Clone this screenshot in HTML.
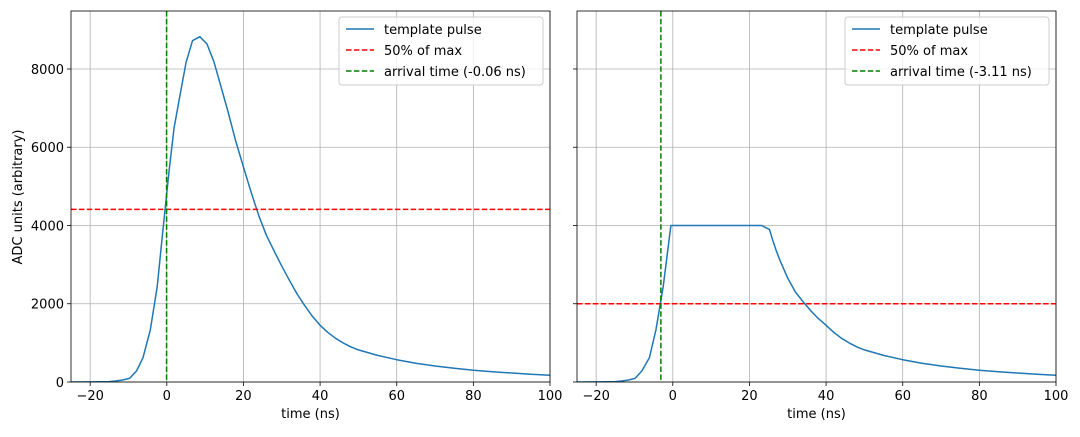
<!DOCTYPE html>
<html><head><meta charset="utf-8"><style>
body{margin:0;background:#fff;font-family:"Liberation Sans","DejaVu Sans",sans-serif}
svg text{font-family:"DejaVu Sans","Liberation Sans",sans-serif;font-size:13px;fill:#000}
</style></head><body>
<svg id="chart" width="1080" height="432" xmlns="http://www.w3.org/2000/svg"></svg>
<script>
const leftT=[-25,-20,-15,-13.4,-11.5,-9.7,-7.9,-6.2,-4.3,-2.5,-1.1,0.6,1.9,3.4,5.0,6.7,8.6,10.5,12.3,14,16,18,20,22,24,26,28,30,32,34,36,38,40,42,44,46,48,50,55,60,65,70,75,80,85,90,95,100];
const leftV=[0,2,10,25,50,94,281,621,1329,2437,3801,5400,6500,7300,8161,8724,8826,8639,8187,7600,6900,6150,5500,4850,4250,3750,3350,2960,2600,2250,1950,1680,1450,1270,1120,1000,900,820,680,570,480,410,350,300,260,230,200,175];
const rightT=[-25,-20,-15,-13.4,-11.5,-9.8,-8.1,-6.1,-4.4,-2.5,-0.5,23.2,25.2,26,27,28,30,32,34,36,38,40,42,44,46,48,50,55,60,65,70,75,80,85,90,95,100];
const rightV=[0,2,10,25,50,94,281,621,1329,2437,4000,4000,3900,3650,3350,3100,2650,2300,2050,1820,1620,1450,1270,1120,1000,900,820,680,570,480,410,350,300,260,230,200,175];
const xTicks=[-20,0,20,40,60,80,100];
const yTicks=[0,2000,4000,6000,8000];
const halfMax=[4413,2000];
const arrival=[-0.06,-3.11];
const arrivalLabels=["arrival time (-0.06 ns)","arrival time (-3.11 ns)"];
const NS="http://www.w3.org/2000/svg";
const svg=document.getElementById('chart');
function mk(tag,attrs,parent){const e=document.createElementNS(NS,tag);for(const k in attrs)e.setAttribute(k,attrs[k]);(parent||svg).appendChild(e);return e;}
const panels=[{x0:71,x1:550,T:leftT,V:leftV,name:'left'},{x0:577,x1:1056,T:rightT,V:rightV,name:'right'}];
const yTop=11,yBot=382,ymax=9482,xmin=-25,xmax=100;
panels.forEach((p,i)=>{
  const g=mk('g',{});
  
  
  const sx=v=>p.x0+(v-xmin)/(xmax-xmin)*(p.x1-p.x0);
  const sy=v=>yBot-v/ymax*(yBot-yTop);
  xTicks.forEach(t=>{
    mk('line',{x1:sx(t),x2:sx(t),y1:yTop,y2:yBot,stroke:'#b0b0b0','stroke-width':0.8},g);
    mk('line',{x1:sx(t),x2:sx(t),y1:yBot,y2:yBot+4,stroke:'#000','stroke-width':0.8},g);
    const tx=mk('text',{x:sx(t),y:yBot+18,'text-anchor':'middle'},g);tx.textContent=String(t).replace('-','\u2212');
    
    
  });
  yTicks.forEach(t=>{
    mk('line',{x1:p.x0,x2:p.x1,y1:sy(t),y2:sy(t),stroke:'#b0b0b0','stroke-width':0.8},g);
    mk('line',{x1:p.x0-4,x2:p.x0,y1:sy(t),y2:sy(t),stroke:'#000','stroke-width':0.8},g);
    if(i===0){const tx=mk('text',{x:p.x0-7,y:sy(t)+5,'text-anchor':'end'},g);tx.textContent=t;
      
      }
  });
  const pts=p.T.map((t,j)=>sx(t).toFixed(1)+','+sy(p.V[j]).toFixed(1)).join(' ');
  mk('clipPath',{id:'c'+i},g).appendChild(mk('rect',{x:p.x0,y:yTop,width:p.x1-p.x0,height:yBot-yTop},g));
  const line=mk('polyline',{points:pts,fill:'none',stroke:'#1f77b4','stroke-width':1.5,'stroke-linejoin':'round','clip-path':'url(#c'+i+')'},g);
  
  
  const h=mk('line',{x1:p.x0,x2:p.x1,y1:sy(halfMax[i]),y2:sy(halfMax[i]),stroke:'#ff0000','stroke-width':1.5,'stroke-dasharray':'5.5,2.4'},g);
  
  
  const a=mk('line',{x1:sx(arrival[i]),x2:sx(arrival[i]),y1:yTop,y2:yBot,stroke:'#008000','stroke-width':1.5,'stroke-dasharray':'5.5,2.4'},g);
  
  
  mk('rect',{x:p.x0,y:yTop,width:p.x1-p.x0,height:yBot-yTop,fill:'none',stroke:'#000','stroke-width':0.8},g);
  const xl=mk('text',{x:(p.x0+p.x1)/2,y:418,'text-anchor':'middle'},g);xl.textContent='time (ns)';
  
  
  const lx=p.x1-211,ly=17;
  const lg=mk('g',{},g);
  
  
  mk('rect',{x:lx,y:ly,width:204,height:68,rx:3,fill:'#fff','fill-opacity':0.8,stroke:'#ccc','stroke-width':1},lg);
  const items=[['template pulse','#1f77b4',null],['50% of max','#ff0000','5.5,2.4'],[arrivalLabels[i],'#008000','5.5,2.4']];
  items.forEach((it,k)=>{
    const yy=ly+12+k*21;
    const ll=mk('line',{x1:lx+7,x2:lx+35,y1:yy,y2:yy,stroke:it[1],'stroke-width':1.5},lg);
    if(it[2])ll.setAttribute('stroke-dasharray',it[2]);
    const t=mk('text',{x:lx+45,y:yy+5},lg);t.textContent=it[0];
    
    
  });
});
const yl=mk('text',{x:22,y:197,'text-anchor':'middle',transform:'rotate(-90 22 197)'});
yl.textContent='ADC units (arbitrary)';


</script>
</body></html>
